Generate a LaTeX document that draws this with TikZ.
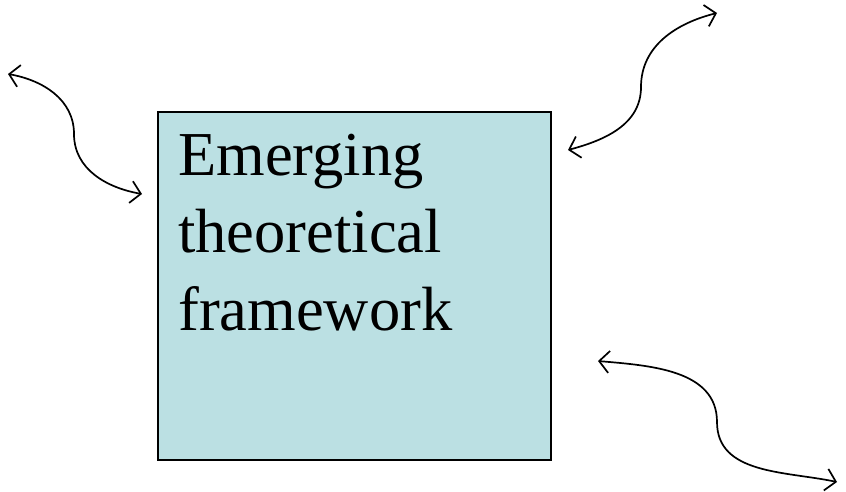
\documentclass[tikz,border=0pt]{standalone}
\usepackage{fontspec}
\setmainfont{Liberation Serif}
\usetikzlibrary{arrows.meta}
\definecolor{boxfill}{HTML}{BBE0E3}
\tikzset{
  framebox/.style={draw=black, line width=1.5pt, fill=boxfill},
  wavy/.style={line width=1.7pt, {Straight Barb[length=10pt,width=22pt]}-{Straight Barb[length=10pt,width=22pt]}},
}
\begin{document}
\begin{tikzpicture}[x=1pt, y=-1pt]
  \useasboundingbox (0,0) rectangle (846,491);
  % central box
  \draw[framebox] (158,112) rectangle (551,460);
  % three-line caption; its base anchor sits on the last line's baseline
  \node[anchor=base west, align=left, inner sep=0pt,
        font=\fontsize{62.5}{77.5}\selectfont] (label) at (178,330)
        {Emerging\\theoretical\\framework};
  % free ends and turning points of the double arrows
  \coordinate (a1) at (8,74);
  \coordinate (m1) at (74,134);
  \coordinate (b1) at (142,194);
  \coordinate (a2) at (568,150);
  \coordinate (m2) at (641,87);
  \coordinate (b2) at (717,13);
  \coordinate (a3) at (598,361);
  \coordinate (m3) at (717,422);
  \coordinate (b3) at (837,482);
  \draw[wavy] (a1) to[out=-10,in=90] (m1) to[out=-90,in=170] (b1);
  \draw[wavy] (a2) to[out=15,in=-90] (m2) to[out=90,in=194] (b2);
  \draw[wavy] (a3) to[out=-5,in=90] (m3) to[out=-90,in=168] (b3);
\end{tikzpicture}
\end{document}
